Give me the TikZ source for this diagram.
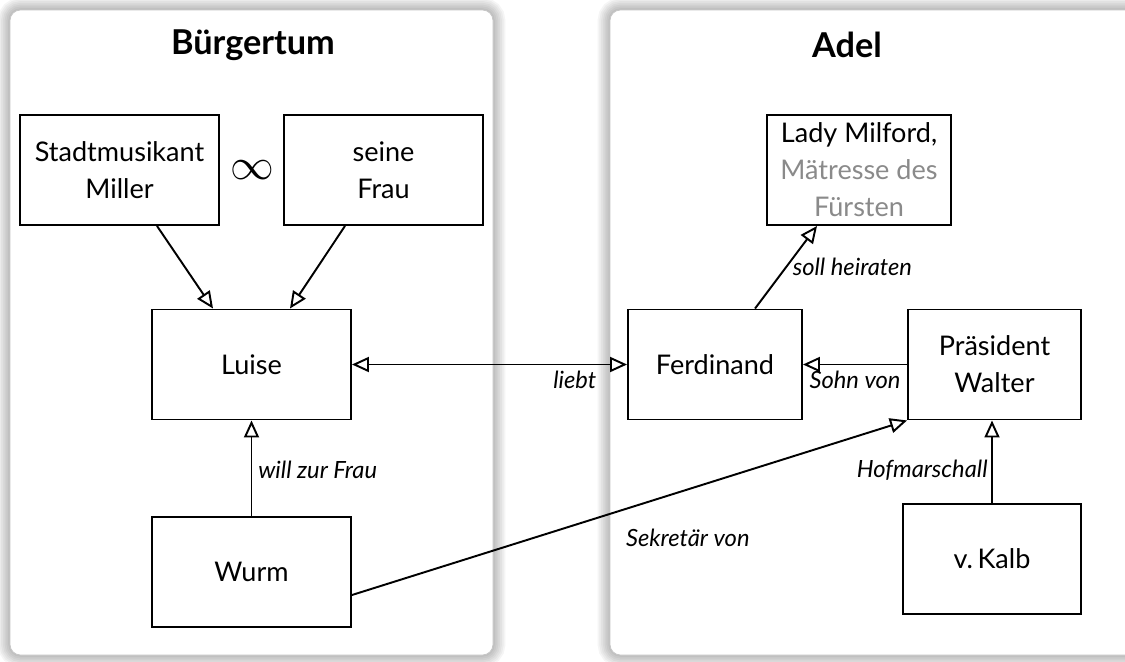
\documentclass[tikz,border=0pt]{standalone}
\usepackage{fontspec}
\setmainfont{Lato}
\usepackage{tikz}
\usetikzlibrary{
        arrows.meta,
        positioning
    }
\definecolor{mistress}{HTML}{8A8A8A}
\tikzset{opentip/.tip={Triangle[open,length=0.34cm,width=0.3cm]}}
\tikzset{person/.style={draw,rectangle,align=center,inner sep=2pt,
        minimum width=3.98cm,minimum height=2.2cm,
        font=\fontsize{15.4}{21}\selectfont}}
\tikzset{rel/.style={font=\itshape\fontsize{13.5}{15}\selectfont}}
\tikzset{title/.style={font=\bfseries\fontsize{19.5}{22}\selectfont}}
\tikzset{panel/.style={draw=gray!45,fill=white,line width=0.4pt,rounded corners=6pt}}

\begin{document}
\begin{tikzpicture}[line width=1.1pt]
                        \useasboundingbox (0,0) rectangle (22.5,-13.22);
                        % panels with a soft shadow
                        \foreach \w in {2,4,...,14} {
                            \draw[black,opacity=0.04,line width=\w pt,rounded corners=6pt] (0.2,-0.2) rectangle (9.86,-13.1);
                            \draw[black,opacity=0.04,line width=\w pt,rounded corners=6pt] (12.2,-0.2) rectangle (23.2,-13.1);
                        }
                        \draw[panel] (0.2,-0.2) rectangle (9.86,-13.1);
                        \draw[panel] (12.2,-0.2) rectangle (23.2,-13.1);
                        \node[title] (buerger) at (5.06,-0.9) {Bürgertum};
                        \node[title] (adel) at (16.94,-0.9) {Adel};
                        % Buergertum
                        \node[person] (miller) at (2.39,-3.40) {Stadtmusikant\\Miller};
                        \node[person] (frau) [right of=miller,node distance=5.28cm] {seine\\Frau};
                        \node (ehe) at (5.04,-3.40) {\fontsize{29}{29}\selectfont$\infty$};
                        \node[person] (luise) at (5.03,-7.29) {Luise};
                        \node[person] (wurm) [below of=luise,node distance=4.15cm] {Wurm};
                        % Adel
                        \node[person,minimum width=3.68cm] (milford) at (17.18,-3.40)
                            {Lady Milford,\\\textcolor{mistress}{Mätresse des}\\\textcolor{mistress}{Fürsten}};
                        \node[person,minimum width=3.48cm] (ferdinand) at (14.30,-7.29) {Ferdinand};
                        \node[person,minimum width=3.46cm] (walter) [right of=ferdinand,node distance=5.59cm] {Präsident\\Walter};
                        \node[person,minimum width=3.56cm] (kalb) at (19.84,-11.18) {v.\,Kalb};
                        \draw[-opentip] ([xshift=0.75cm]miller.south) -- ([xshift=-0.77cm]luise.north);
                        \draw[-opentip] ([xshift=-0.77cm]frau.south) -- ([xshift=0.77cm]luise.north);
                        \draw[opentip-opentip] (luise) -- node[rel,pos=0.81,below] {liebt} (ferdinand);
                        \draw[-opentip] (walter) -- node[rel,midway,below] {Sohn von} (ferdinand);
                        \draw[-opentip] (wurm) -- node[rel,pos=0.48,right] {will zur Frau} (luise);
                        \draw[-opentip] ([yshift=-0.46cm]wurm.east) -- node[rel,pos=0.605,yshift=-0.96cm] {Sekretär von} (walter.south west);
                        \draw[-opentip] (kalb.north) -- node[rel,pos=0.4,left,inner sep=2pt] {Hofmarschall} (kalb.north |- walter.south);
                        \draw[-opentip] ([xshift=0.8cm]ferdinand.north) -- node[rel,midway,right] {soll heiraten} ([xshift=-0.84cm]milford.south);
                    \end{tikzpicture}
\end{document}
